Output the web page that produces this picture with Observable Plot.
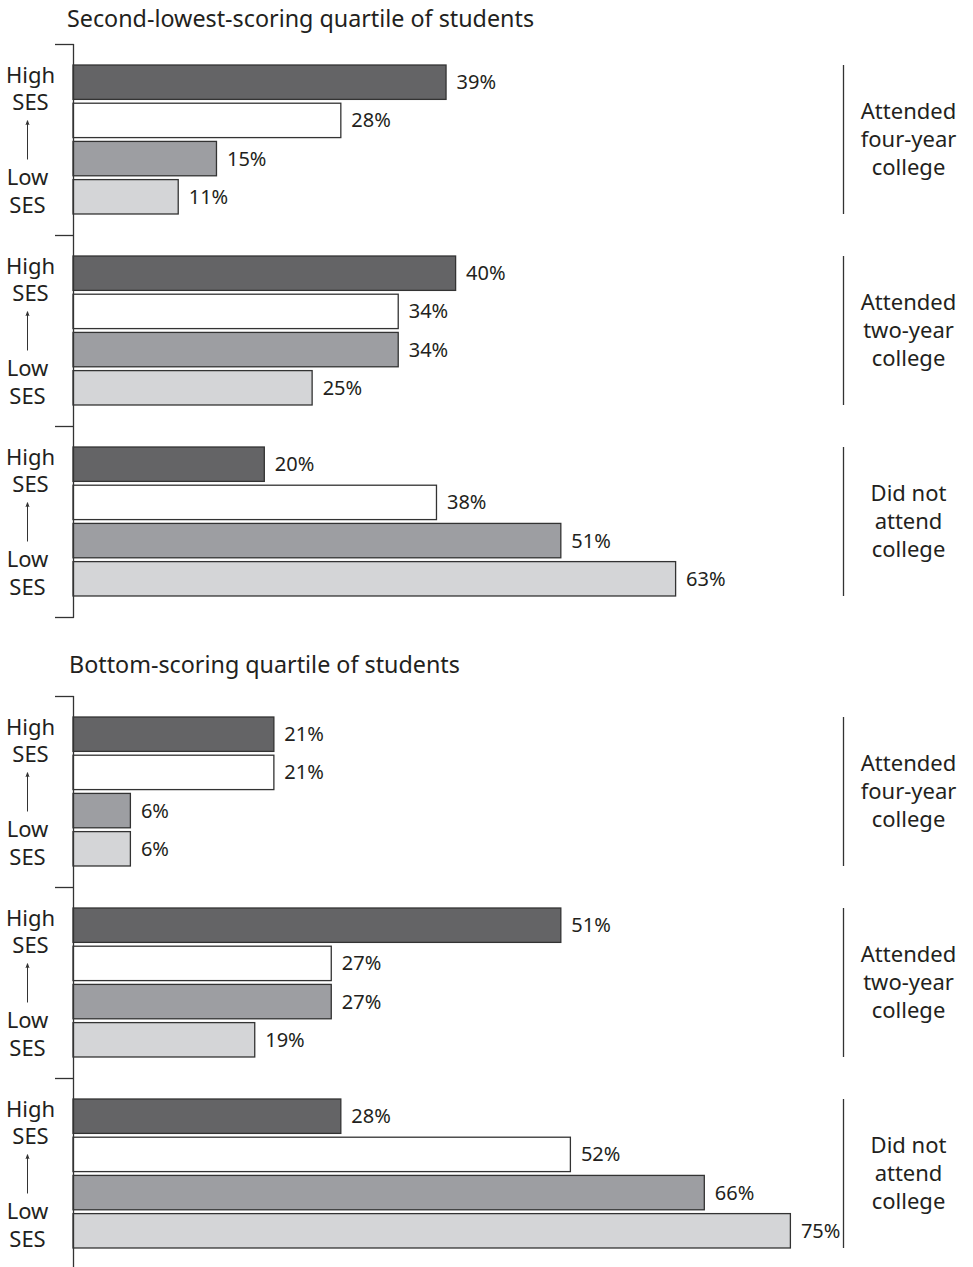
<!DOCTYPE html>
<html>
<head>
<meta charset="utf-8">
<script src="https://cdn.jsdelivr.net/npm/d3@7"></script>
<script src="https://cdn.jsdelivr.net/npm/@observablehq/plot@0.6"></script>
<style>
  html, body { margin: 0; padding: 0; background: #fff; }
  #root { position: relative; width: 973px; height: 1267px; overflow: hidden; font-family: "Noto Sans", sans-serif; color: #231f20; }
  .title { position: absolute; font-size: 23.3px; line-height: 28px; white-space: nowrap; }
  .panel { position: absolute; left: 0; }
  .panel svg { display: block; }
</style>
</head>
<body>
<div id="root"></div>
<script>
// ---- Data ----
const panelTitles = ["Second-lowest-scoring quartile of students", "Bottom-scoring quartile of students"];
const groups = ["Attended four-year college", "Attended two-year college", "Did not attend college"];
const groupLabels = ["Attended\nfour-year\ncollege", "Attended\ntwo-year\ncollege", "Did not\nattend\ncollege"];
const sesLevels = ["High SES", "Upper-middle SES", "Lower-middle SES", "Low SES"];
const highLabel = "High\nSES";
const lowLabel = "Low\nSES";

// Second-lowest-scoring quartile (values in %, High SES -> Low SES)
const q2FourYear = [39, 28, 15, 11];
const q2TwoYear  = [40, 34, 34, 25];
const q2NoCollege = [20, 38, 51, 63];

// Bottom-scoring quartile
const q1FourYear = [21, 21, 6, 6];
const q1TwoYear  = [51, 27, 27, 19];
const q1NoCollege = [28, 52, 66, 75];

// ---- Styles ----
const sesColors = ["#646466", "#ffffff", "#9d9ea2", "#d4d5d7"];
const ink = "#231f20";
const lineColor = "#333333";
const xMax = 80.5;

function makePanel(values, tickKeys, axisEnds, height) {
  const rows = [];
  groups.forEach((g, gi) => sesLevels.forEach((s, si) => rows.push({group: g, ses: s, key: g + "|" + s, value: values[gi][si]})));
  const domain = ["sp0"];
  groups.forEach((g, gi) => { sesLevels.forEach(s => domain.push(g + "|" + s)); domain.push("sp" + (gi + 1)); });
  const groupRows = groups.map((g, gi) => ({
    label: groupLabels[gi],
    first: g + "|" + sesLevels[0],
    second: g + "|" + sesLevels[1],
    third: g + "|" + sesLevels[2],
    last: g + "|" + sesLevels[3]
  }));
  return Plot.plot({
    width: 973,
    height,
    marginLeft: 73,
    marginRight: 130,
    marginTop: 0,
    marginBottom: 0,
    style: {fontFamily: "Noto Sans, sans-serif", background: "transparent", overflow: "visible", color: ink},
    x: {domain: [0, xMax], axis: null},
    y: {type: "band", domain, range: [-9.19, 598.19], paddingInner: 0.1, paddingOuter: 0, align: 0.5, round: false, label: null},
    color: {domain: sesLevels, range: sesColors},
    marks: [
      Plot.barX(rows, {x: "value", y: "key", fill: "ses", stroke: lineColor, strokeWidth: 1.3}),
      Plot.text(rows, {x: "value", y: "key", text: d => d.value + "%", dx: 10, textAnchor: "start", fontSize: 20, fill: ink}),
      Plot.line(axisEnds, {x: () => 0, y: d => d, stroke: lineColor, strokeWidth: 1.3}),
      Plot.axisY(tickKeys, {tickSize: 18, tickFormat: () => "", stroke: lineColor, strokeWidth: 1.3, label: null}),
      Plot.ruleX(groupRows, {x: () => xMax, y1: "first", y2: "last", stroke: lineColor, strokeWidth: 1.3}),
      Plot.text(groupRows, {x: () => xMax, y: "second", dx: 65, dy: 17.5, text: "label", textAnchor: "middle", lineAnchor: "middle", lineHeight: 1.265, fontSize: 22, fill: ink}),
      Plot.text(groupRows, {x: () => 0, y: "first", dx: -43, dy: 5.5, text: () => highLabel, textAnchor: "middle", lineAnchor: "middle", lineHeight: 1.23, fontSize: 22, fill: ink}),
      Plot.text(groupRows, {x: () => 0, y: "last", dx: -46, dy: -7, text: () => lowLabel, textAnchor: "middle", lineAnchor: "middle", lineHeight: 1.23, fontSize: 22, fill: ink}),
      Plot.arrow(groupRows, {x1: () => 0, x2: () => 0, y1: "third", y2: "second", dx: -46, headLength: 6, headAngle: 40, stroke: lineColor, strokeWidth: 1})
    ]
  });
}

const root = document.getElementById("root");
function addTitle(text, top, left) {
  const d = document.createElement("div");
  d.className = "title";
  d.style.top = top + "px";
  d.style.left = left + "px";
  d.textContent = text;
  root.appendChild(d);
}
function addPanel(svg, top) {
  const d = document.createElement("div");
  d.className = "panel";
  d.style.top = top + "px";
  d.appendChild(svg);
  root.appendChild(d);
}

addTitle(panelTitles[0], 4, 67);
addPanel(makePanel([q2FourYear, q2TwoYear, q2NoCollege], ["sp0", "sp1", "sp2", "sp3"], ["sp0", "sp3"], 600), 36);
addTitle(panelTitles[1], 650, 69);
addPanel(makePanel([q1FourYear, q1TwoYear, q1NoCollege], ["sp0", "sp1", "sp2"], ["sp0", "sp3"], 579), 688);
</script>
</body>
</html>
